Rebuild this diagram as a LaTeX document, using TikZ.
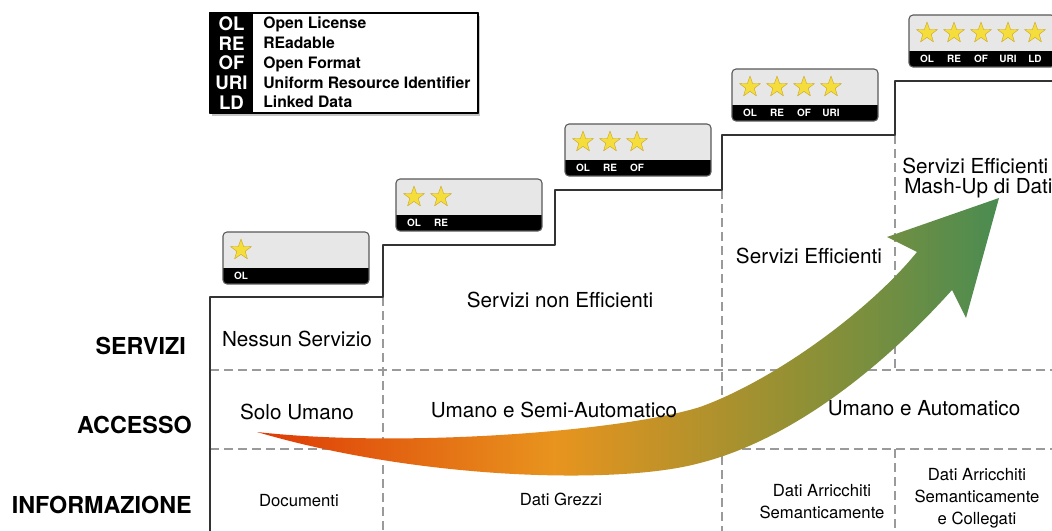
\documentclass[tikz,border=0pt]{standalone}
\usepackage{fontspec}
\setmainfont{TeX Gyre Heros}
\usetikzlibrary{shapes.geometric}
\usetikzlibrary{shadows}
\definecolor{boxgray}{HTML}{E7E7E7}
\definecolor{gridgray}{HTML}{9A9A9A}
\definecolor{staryellow}{HTML}{F5DD3C}
\definecolor{staredge}{HTML}{C8A62A}
\definecolor{arrowred}{HTML}{DE3A06}
\definecolor{arroworange}{HTML}{E8941E}
\definecolor{arrowolive}{HTML}{8F9035}
\definecolor{arrowgreen}{HTML}{4A8C52}
\pgfdeclarehorizontalshading{bigarrow}{100bp}{color(0bp)=(arrowred); color(25bp)=(arrowred);
  color(45bp)=(arroworange); color(62bp)=(arrowolive); color(75bp)=(arrowgreen); color(100bp)=(arrowgreen)}

\begin{document}
\begin{tikzpicture}[x=0.75pt,y=-0.75pt,line join=round,
  gridline/.style={color=gridgray,line width=0.9pt,dash pattern=on 6.5pt off 4pt},
  stepline/.style={color=black!80,line width=1.1pt},
  boxedge/.style={draw=black!65,line width=0.8pt,rounded corners=3pt},
  ystar/.style={star,star points=5,star point ratio=2.5,minimum size=16.5pt,inner sep=0pt,fill=staryellow,draw=staredge,line width=0.3pt},
  boxlabel/.style={text=white,font=\fontsize{7.5}{8}\selectfont\bfseries,inner sep=0pt},
  legabbr/.style={text=white,font=\fontsize{14}{15}\selectfont\bfseries,inner sep=0pt,anchor=base},
  legtext/.style={font=\fontsize{11.8}{13}\selectfont\bfseries,inner sep=0pt,anchor=base west},
  celltext/.style={font=\fontsize{15.5}{18}\selectfont,align=center,inner sep=0pt},
  smalltext/.style={font=\fontsize{12.5}{16.5}\selectfont,align=center,inner sep=0pt},
  rowlabel/.style={font=\fontsize{17.5}{20}\selectfont\bfseries,anchor=east,inner sep=0pt}]
\useasboundingbox (0,0) rectangle (1052,531);
\fill[white] (0,0) rectangle (1052,531);

% grid
\draw[gridline] (383,297) -- (383,531);
\draw[gridline] (722,190) -- (722,531);
\draw[gridline] (895,135) -- (895,369);
\draw[gridline] (895,449) -- (895,531);
\draw[gridline] (210,370) -- (1052,370);
\draw[gridline] (210,449) -- (1052,449);
\draw[stepline] (210,531) -- (210,297) -- (383,297) -- (383,245) -- (555,245) -- (555,190)
  -- (722,190) -- (722,135) -- (895,135) -- (895,81) -- (1052,81);

% legend
\filldraw[fill=white,draw=black,line width=1.5pt,drop shadow={shadow xshift=1.5pt,shadow yshift=-2.5pt,opacity=0.45}] (210,13) rectangle (478,113);
\fill[black] (210,13) rectangle (253,113);
\draw[black,line width=1.5pt] (210,13) rectangle (478,113);
\foreach \ab/\txt [count=\r from 0] in {OL/Open License,RE/REadable,OF/Open Format,URI/Uniform Resource Identifier,LD/Linked Data}{
  \node[legabbr] (abbr-\ab) at (231.5,30.6+19.7*\r) {\ab};
  \node[legtext] (leg-\ab) at (263,29+19.7*\r) {\txt};
}

% rating boxes
\foreach \bx/\by/\nstar [count=\k] in {223/232/1,396/179/2,565/124/3,732/69/4,909/15/5}{
  \begin{scope}
    \clip[rounded corners=3pt] (\bx,\by) rectangle ++(146,52);
    \fill[boxgray] (\bx,\by) rectangle ++(146,52);
    \fill[black] (\bx,\by+36) rectangle ++(146,16);
  \end{scope}
  \draw[boxedge] (\bx,\by) rectangle ++(146,52);
  \foreach \lab [count=\i from 0] in {OL,RE,OF,URI,LD}{
    \ifnum\i<\nstar
      \node[ystar] (star\k-\i) at (\bx+18+27*\i,\by+18) {};
      \node[boxlabel] (lab\k-\i) at (\bx+18+27*\i,\by+43.5) {\lab};
    \fi
  }
}

% arrow
\shade[shading=bigarrow]
  (257,432) .. controls (400,448) and (620,432) .. (700,407)
  .. controls (775,380) and (870,310) .. (917,252)
  -- (887,237) -- (999,198) -- (966,318) -- (952,290)
  .. controls (880,370) and (790,440) .. (700,463)
  .. controls (620,485) and (420,480) .. (257,432) -- cycle;

% rows
\node[rowlabel] (servizi) at (186,346) {SERVIZI};
\node[rowlabel] (accesso) at (192,425) {ACCESSO};
\node[rowlabel] (informazione) at (192,505) {INFORMAZIONE};

% cells
\node[celltext] (nessun) at (297,339) {Nessun Servizio};
\node[celltext] (nonefficienti) at (560,300) {Servizi non Efficienti};
\node[celltext] (efficienti) at (809,256) {Servizi Efficienti};
\node[celltext,anchor=west] (mashup1) at (902,165.5) {Servizi Efficienti};
\node[celltext,anchor=west] (mashup2) at (904,188) {Mash-Up di Dati};
\node[celltext] (solo) at (297,412) {Solo Umano};
\node[celltext] (semiauto) at (554,410) {Umano e Semi-Automatico};
\node[celltext] (auto) at (924,408) {Umano e Automatico};
\node[smalltext] (documenti) at (299,501) {Documenti};
\node[smalltext] (grezzi) at (561,499) {Dati Grezzi};
\node[smalltext] (arricchiti) at (822,502) {Dati Arricchiti\\Semanticamente};
\node[smalltext] (collegati) at (977,498) {Dati Arricchiti\\Semanticamente\\e Collegati};
\end{tikzpicture}
\end{document}
